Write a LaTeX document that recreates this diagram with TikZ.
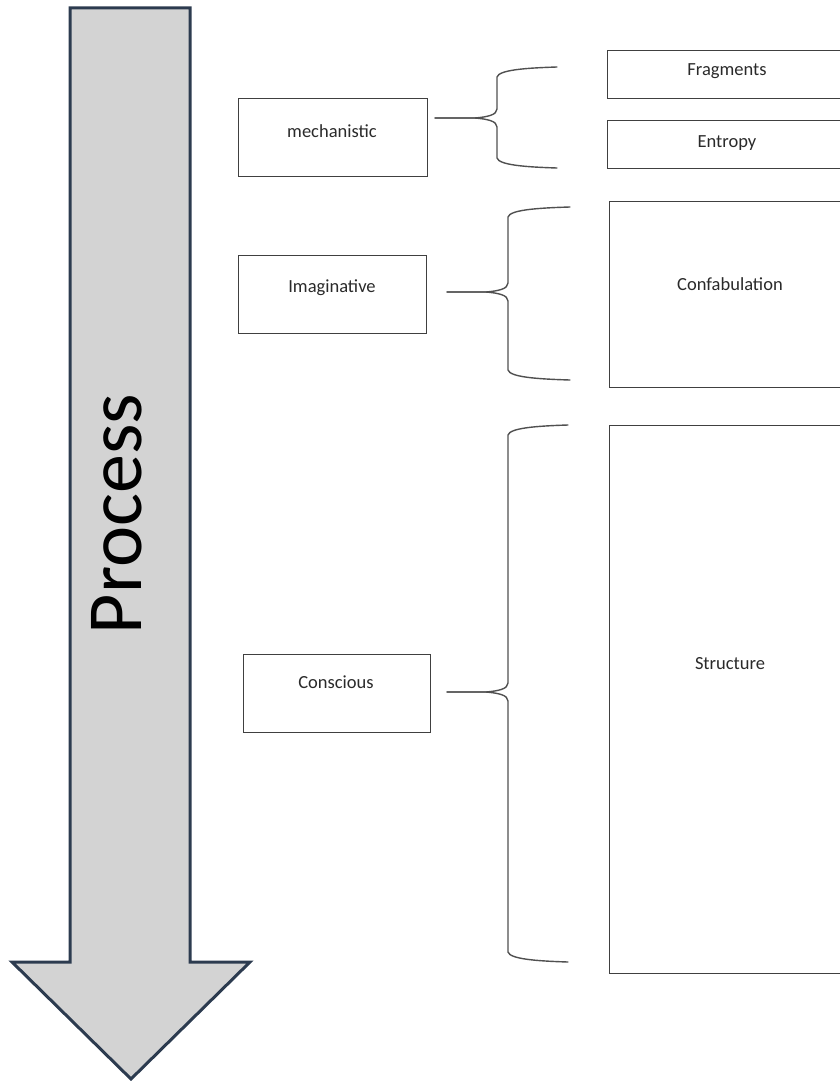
\documentclass[tikz,border=0pt]{standalone}
\usepackage{fontspec}
\setmainfont{Carlito}
\definecolor{boxline}{HTML}{404040}
\definecolor{braceline}{HTML}{505050}
\definecolor{labeltext}{HTML}{2A2A2A}
\definecolor{arrowline}{HTML}{2C3B4F}
\definecolor{arrowfill}{HTML}{D3D3D3}
% curly bracket: tip x, tip y, spine x, top y, bottom y, end x
\newcommand\drawcurly[6]{%
  \draw[bracepath] (#6,#4) .. controls (#3+28,#4+1) and (#3+2,#4+3) .. (#3,#4+10)
    -- (#3,#2-9) .. controls (#3,#2-3) and (#3-10,#2-1) .. (#3-22,#2)
    -- (#1,#2);
  \draw[bracepath] (#1,#2) -- (#3-22,#2)
    .. controls (#3-10,#2+1) and (#3,#2+3) .. (#3,#2+9)
    -- (#3,#5-10) .. controls (#3+2,#5-3) and (#3+28,#5-1) .. (#6,#5);
}
\begin{document}
\begin{tikzpicture}[x=1pt,y=-1pt,
  box/.style={draw=boxline, line width=1.4pt, fill=white, inner sep=0pt, anchor=north west},
  lbl/.style={text=labeltext, font=\fontsize{18.5}{22}\selectfont, inner sep=0pt, anchor=base},
  bracepath/.style={draw=braceline, line width=1.4pt, line cap=round, line join=round},
  flow/.style={draw=arrowline, line width=3pt, fill=arrowfill, line join=miter}]
\useasboundingbox (0,0) rectangle (840,1081);
\clip (0,0) rectangle (840,1081);

% downward process arrow
\draw[flow] (70,8) -- (190,8) -- (190,962) -- (250,962) -- (131,1079)
  -- (12,962) -- (70,962) -- cycle;
\node[rotate=90, inner sep=0pt, font=\fontsize{78}{90}\selectfont, text=black] (proc) at (117,514) {Process};

% stages
\node[box, minimum width=189pt, minimum height=78pt] (mech) at (238,98) {};
\node[box, minimum width=188pt, minimum height=78pt] (imag) at (238,255) {};
\node[box, minimum width=187pt, minimum height=78pt] (cons) at (243,654) {};
\node[lbl] (mechT) at (332,137) {mechanistic};
\node[lbl] (imagT) at (332,292) {Imaginative};
\node[lbl] (consT) at (336,688) {Conscious};

% outcomes
\node[box, minimum width=240pt, minimum height=48pt] (frag) at (607,50) {};
\node[box, minimum width=240pt, minimum height=48pt] (entr) at (607,120) {};
\node[box, minimum width=240pt, minimum height=186pt] (conf) at (609,201) {};
\node[box, minimum width=240pt, minimum height=548pt] (struc) at (609,425) {};
\node[lbl] (fragT) at (727,75) {Fragments};
\node[lbl] (entrT) at (727,147) {Entropy};
\node[lbl] (confT) at (730,290) {Confabulation};
\node[lbl] (strucT) at (730,669) {Structure};

% brackets joining each stage to its outcomes
\drawcurly{435}{118}{497}{67}{168}{557}
\drawcurly{447}{292}{508}{207}{380}{570}
\drawcurly{447}{692}{508}{425}{962}{568}
\end{tikzpicture}
\end{document}
